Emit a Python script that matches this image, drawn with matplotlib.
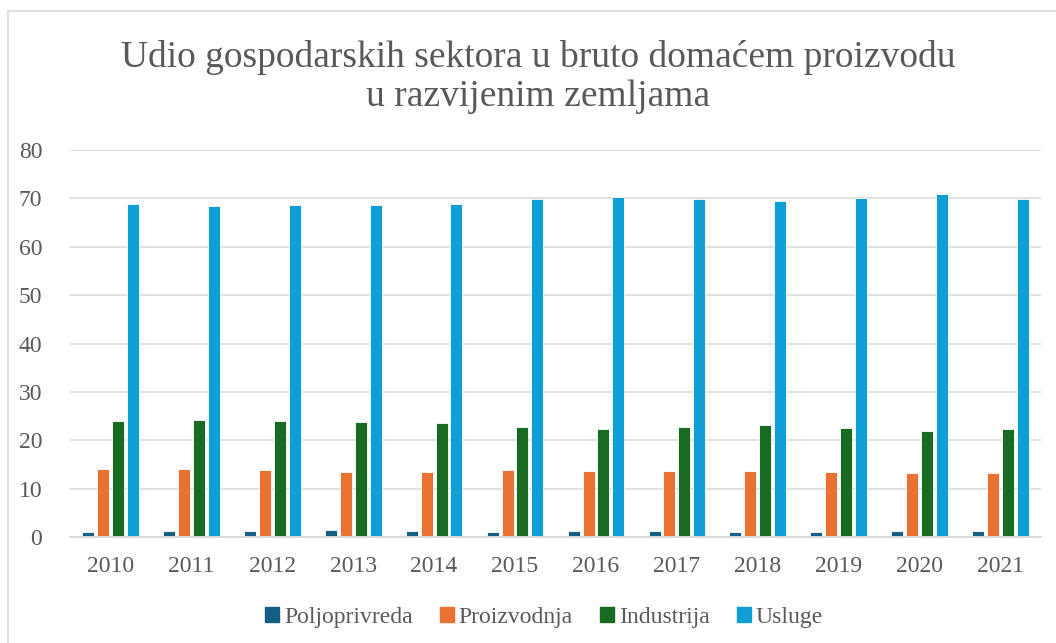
import numpy as np
import matplotlib
matplotlib.use("Agg")
import matplotlib.pyplot as plt
from matplotlib.patches import Rectangle
from matplotlib.lines import Line2D

plt.rcParams["font.family"] = ["Liberation Serif", "DejaVu Serif"]

years = ["2010", "2011", "2012", "2013", "2014", "2015",
         "2016", "2017", "2018", "2019", "2020", "2021"]
poljoprivreda = [1.1, 1.25, 1.25, 1.4, 1.25, 1.1, 1.2, 1.25, 1.1, 1.1, 1.25, 1.25]
proizvodnja = [14.1, 14.0, 13.75, 13.5, 13.5, 13.75, 13.7, 13.7, 13.7, 13.4, 13.2, 13.3]
industrija = [23.9, 24.1, 24.0, 23.7, 23.6, 22.8, 22.4, 22.8, 23.05, 22.6, 22.0, 22.4]
usluge = [68.9, 68.4, 68.7, 68.7, 68.8, 69.9, 70.35, 69.9, 69.5, 70.15, 70.9, 69.9]

series = [
    ("Poljoprivreda", poljoprivreda, "#156082"),
    ("Proizvodnja", proizvodnja, "#E97132"),
    ("Industrija", industrija, "#196B24"),
    ("Usluge", usluge, "#0F9ED5"),
]

TEXT_COLOR = "#595959"
GRID_COLOR = "#D9D9D9"

fig = plt.figure(figsize=(10.56, 6.43), dpi=100)
ax = fig.add_axes([70 / 1056, 1 - 537 / 643, 971 / 1056, 387 / 643])

x = np.arange(len(years))
step = 0.184
width = 0.148
for k, (name, vals, color) in enumerate(series):
    offset = (k - 1.5) * step
    ax.bar(x + offset, vals, width=width, color=color, edgecolor="white",
           linewidth=0.6, label=name, zorder=3)

ax.set_xlim(-0.5, len(years) - 0.5)
ax.set_ylim(0, 80)
ax.set_yticks(np.arange(0, 81, 10))
ax.set_xticks(x)
ax.set_xticklabels(years)
ax.grid(axis="y", color=GRID_COLOR, linewidth=1.1, zorder=0)
for s in ["top", "right", "left"]:
    ax.spines[s].set_visible(False)
ax.spines["bottom"].set_color(GRID_COLOR)
ax.spines["bottom"].set_linewidth(1.4)
ax.spines["bottom"].set_zorder(4)
ax.tick_params(axis="both", length=0, labelsize=17, labelcolor=TEXT_COLOR)
ax.tick_params(axis="y", pad=20)
ax.tick_params(axis="x", pad=14)

fig.text(0.51, 1 - 77 / 643,
         "Udio gospodarskih sektora u bruto domaćem proizvodu\nu razvijenim zemljama",
         ha="center", va="center", fontsize=27, color=TEXT_COLOR, linespacing=1.2)

handles = [Rectangle((0, 0), 1, 1, color=c) for _, _, c in series]
leg = fig.legend(handles, [n for n, _, _ in series], loc="center",
                 bbox_to_anchor=(544 / 1056, 1 - 617 / 643), ncol=4, frameon=False,
                 fontsize=17, handlelength=0.6, handleheight=0.6,
                 handletextpad=0.2, columnspacing=1.15)
for t in leg.get_texts():
    t.set_color(TEXT_COLOR)

# outer chart border (left and top edges visible)
fig.add_artist(Line2D([8 / 1056, 8 / 1056], [0, 1 - 11 / 643], transform=fig.transFigure,
                      color=GRID_COLOR, linewidth=1.2))
fig.add_artist(Line2D([8 / 1056, 1], [1 - 11 / 643, 1 - 11 / 643], transform=fig.transFigure,
                      color=GRID_COLOR, linewidth=1.2))

fig.savefig("out.png", dpi=100, facecolor="white")
